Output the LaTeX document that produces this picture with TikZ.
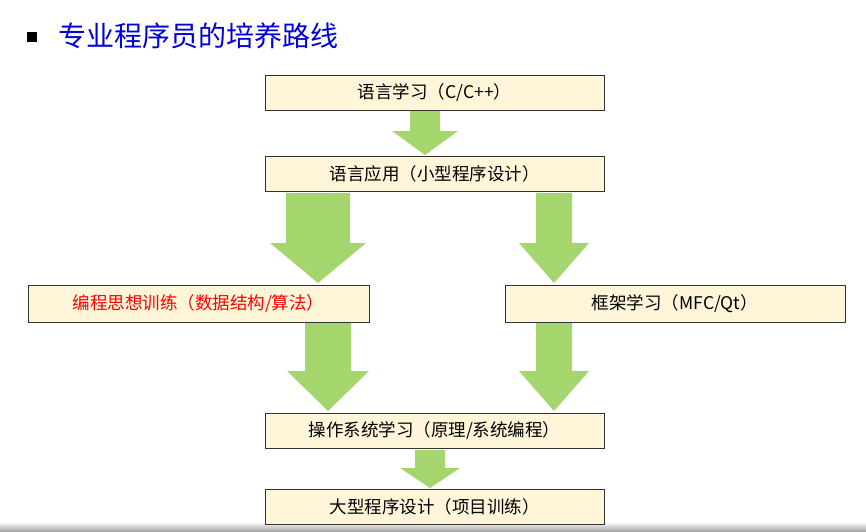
\documentclass[tikz,border=0pt]{standalone}
\usepackage{fontspec}
\setmainfont{Noto Sans CJK SC}
\usetikzlibrary{calc}
\definecolor{boxfill}{HTML}{FFF5D9}
\definecolor{arr}{HTML}{A5D66E}
\tikzset{
  box/.style={draw=black!80,line width=0.9pt,fill=boxfill,minimum width=339pt,minimum height=35pt,inner sep=0pt,font=\fontsize{17.5}{20}\selectfont},
}
\newcommand{\blockarr}[6]{% x, ytop, ybot, shaft half, head half, head length
  \fill[arr] (#1-#4,#2) -- (#1+#4,#2) -- (#1+#4,#3-#6) -- (#1+#5,#3-#6) -- (#1,#3) -- (#1-#5,#3-#6) -- (#1-#4,#3-#6) -- cycle;}
\begin{document}
\begin{tikzpicture}[x=1pt,y=-1pt]
\useasboundingbox (0,0) rectangle (866,531);
\fill[white] (0,0) rectangle (866,531);
\shade[top color=white,bottom color=black!35] (0,522) rectangle (866,531);
\fill[black] (27,32) rectangle (37,42);
\node[anchor=west,text=blue!85!black,font=\fontsize{28}{32}\selectfont,inner sep=0pt] (title) at (58,36) {专业程序员的培养路线};
\node[box] (a) at (434.5,92.5) {语言学习（C/C++）};
\node[box] (b) at (434.5,174) {语言应用（小型程序设计）};
\node[box,minimum width=341pt,minimum height=37pt,text=red] (c) at (198.5,303.5) {编程思想训练（数据结构/算法）};
\node[box,minimum width=340pt,minimum height=37pt] (d) at (675,303.5) {框架学习（MFC/Qt）};
\node[box] (e) at (434.5,431) {操作系统学习（原理/系统编程）};
\node[box] (f) at (434.5,506.5) {大型程序设计（项目训练）};
\blockarr{425}{111}{155}{15}{33}{24}
\blockarr{318}{193}{283}{32}{48}{40}
\blockarr{554}{193}{283}{18}{35}{40}
\blockarr{328}{323}{411}{23}{41}{40}
\blockarr{554}{323}{411}{18}{35}{40}
\blockarr{430}{450}{488}{15}{30}{20}
\end{tikzpicture}
\end{document}
